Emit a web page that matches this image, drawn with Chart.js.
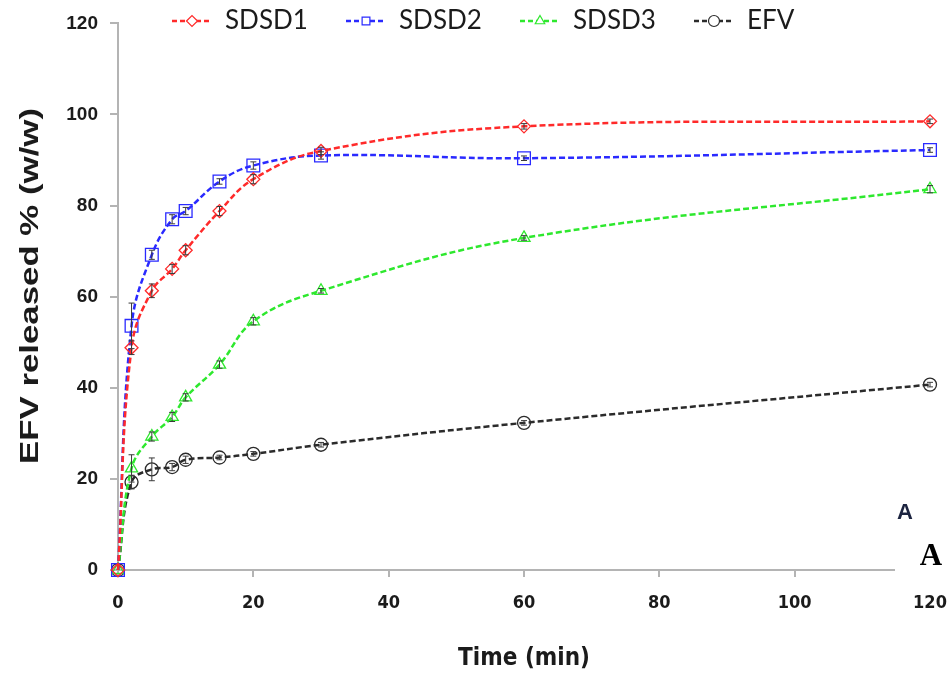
<!DOCTYPE html>
<html>
<head>
<meta charset="utf-8">
<script src="https://cdn.jsdelivr.net/npm/chart.js@4.4.1/dist/chart.umd.min.js"></script>
<style>
  html, body { margin: 0; padding: 0; background: #fff; }
  #plot-container { width: 952px; height: 679px; }
</style>
</head>
<body>
<div id="plot-container"><canvas id="release-chart" width="952" height="679"></canvas></div>
<script>
(function(window) {
  'use strict';

  // sampling times (min)
  const timePoints = [0, 2, 5, 8, 10, 15, 20, 30, 60, 120];

  // cumulative EFV released % (w/w)
  const sdsd1 = [0, 48.8, 61.3, 66.1, 70.2, 78.8, 85.8, 92.0, 97.4, 98.5];
  const sdsd2 = [0, 53.6, 69.2, 77.0, 78.8, 85.3, 88.8, 91.0, 90.4, 92.2];
  const sdsd3 = [0, 22.3, 29.3, 33.6, 37.9, 45.1, 54.6, 61.3, 72.9, 83.6];
  const efv   = [0, 19.3, 22.1, 22.6, 24.2, 24.7, 25.5, 27.5, 32.3, 40.7];

  // standard deviations, same order
  const sdsd1Err = [0, 1.5, 1.5, 1.0, 1.0, 1.0, 1.0, 0.8, 0.6, 0.5];
  const sdsd2Err = [0, 5.0, 1.0, 1.0, 0.8, 0.6, 0.8, 0.8, 0.5, 0.5];
  const sdsd3Err = [0, 3.0, 1.0, 1.0, 0.8, 0.8, 0.8, 0.5, 0.5, 0.8];
  const efvErr   = [0, 1.5, 2.5, 0.8, 0.8, 0.5, 0.5, 0.5, 0.5, 0.5];

  const seriesNames = ['SDSD1', 'SDSD2', 'SDSD3', 'EFV'];
  const xTicks = [0, 20, 40, 60, 80, 100, 120];
  const yTicks = [0, 20, 40, 60, 80, 100, 120];
  const xTitle = 'Time (min)';
  const yTitle = 'EFV released % (w/w)';

  const axisGray = '#b4b4b4';
  const textDark = '#1b1b1b';

  function toPoints(values) {
    return timePoints.map((t, i) => ({ x: t, y: values[i] }));
  }

  function makeSeries(name, values, errors, color, style, radius) {
    return {
      label: name,
      data: toPoints(values),
      errors: errors,
      borderColor: color,
      borderWidth: 2.5,
      borderDash: [6, 3],
      tension: 0.4,
      fill: false,
      clip: false,
      pointStyle: style,
      pointRadius: radius,
      pointBorderWidth: 1.3,
      pointBorderColor: color,
      pointBackgroundColor: 'rgba(255,255,255,0)'
    };
  }

  const datasets = [
    makeSeries(seriesNames[0], sdsd1, sdsd1Err, '#ff2a2a', 'rectRot', 6.5),
    makeSeries(seriesNames[1], sdsd2, sdsd2Err, '#2a2aff', 'rect', 9),
    makeSeries(seriesNames[2], sdsd3, sdsd3Err, '#2ee82e', 'triangle', 7),
    makeSeries(seriesNames[3], efv, efvErr, '#2b2b2b', 'circle', 6.5)
  ];

  // vertical error bars with small caps, drawn over the markers
  const errorBars = {
    id: 'errorBars',
    afterDatasetsDraw(chart) {
      const ctx = chart.ctx;
      const xs = chart.scales.x;
      const ys = chart.scales.y;
      ctx.save();
      ctx.strokeStyle = '#3a3a3a';
      ctx.lineWidth = 1;
      chart.data.datasets.forEach(ds => {
        ds.data.forEach((p, i) => {
          const sd = ds.errors[i];
          if (!sd) return;
          const px = xs.getPixelForValue(p.x);
          const top = ys.getPixelForValue(p.y + sd);
          const bot = ys.getPixelForValue(p.y - sd);
          ctx.beginPath();
          ctx.moveTo(px, top); ctx.lineTo(px, bot);
          ctx.moveTo(px - 3, top); ctx.lineTo(px + 3, top);
          ctx.moveTo(px - 3, bot); ctx.lineTo(px + 3, bot);
          ctx.stroke();
        });
      });
      ctx.restore();
    }
  };

  // legend in one row across the top of the plot
  const topLegend = {
    id: 'topLegend',
    afterDraw(chart) {
      const ctx = chart.ctx;
      const startX = 172;
      const pitch = 174;
      const y = 21;
      ctx.save();
      ctx.font = '26px Lato, "Noto Sans", sans-serif';
      ctx.textBaseline = 'middle';
      chart.data.datasets.forEach((ds, i) => {
        const x0 = startX + i * pitch;
        ctx.strokeStyle = ds.borderColor;
        ctx.lineWidth = 2.5;
        ctx.setLineDash([5, 3]);
        ctx.beginPath();
        ctx.moveTo(x0, y); ctx.lineTo(x0 + 40, y);
        ctx.stroke();
        ctx.setLineDash([]);
        ctx.lineWidth = 1.2;
        ctx.fillStyle = '#fff';
        Chart.helpers.drawPoint(ctx, {
          pointStyle: ds.pointStyle,
          radius: Math.min(ds.pointRadius, 5.5),
          rotation: 0,
          borderWidth: 1.2
        }, x0 + 20, y);
        ctx.fillStyle = textDark;
        ctx.fillText(ds.label, x0 + 53, y);
      });
      ctx.restore();
    }
  };

  // rotated y-axis title, stretched along its length
  const yAxisTitle = {
    id: 'yAxisTitle',
    afterDraw(chart) {
      const ctx = chart.ctx;
      ctx.save();
      ctx.font = 'bold 26px "Liberation Sans", Arial, sans-serif';
      const w = ctx.measureText(yTitle).width;
      const stretch = 356 / w;
      ctx.translate(31, 286);
      ctx.rotate(-Math.PI / 2);
      ctx.scale(stretch, 1);
      ctx.textAlign = 'center';
      ctx.textBaseline = 'middle';
      ctx.fillStyle = textDark;
      ctx.fillText(yTitle, 0, 0);
      ctx.restore();
    }
  };

  // panel letters at the lower right corner
  const panelLetters = {
    id: 'panelLetters',
    afterDraw(chart) {
      const ctx = chart.ctx;
      ctx.save();
      ctx.fillStyle = '#fff';
      ctx.fillRect(895, 534, 57, 46);
      ctx.textAlign = 'center';
      ctx.textBaseline = 'alphabetic';
      ctx.fillStyle = '#1c2440';
      ctx.font = 'bold 22px "Liberation Sans", Arial, sans-serif';
      ctx.fillText('A', 905, 519);
      ctx.fillStyle = '#000';
      ctx.font = 'bold 31px "Liberation Serif", "Times New Roman", serif';
      ctx.fillText('A', 931, 565);
      ctx.restore();
    }
  };

  const ctx = document.getElementById('release-chart').getContext('2d');
  const chart = new Chart(ctx, {
    type: 'line',
    data: { datasets: datasets },
    plugins: [errorBars, topLegend, yAxisTitle, panelLetters],
    options: {
      responsive: false,
      animation: false,
      layout: { padding: { top: 22, right: 22, left: 0, bottom: 0 } },
      plugins: {
        legend: { display: false },
        tooltip: { enabled: false }
      },
      scales: {
        x: {
          type: 'linear',
          min: 0,
          max: 120,
          afterFit(scale) {
            scale.height = 109;
            // let the last label hang into the right margin
            scale.paddingLeft = 0;
            scale.paddingRight = 0;
          },
          afterBuildTicks(scale) { scale.ticks = xTicks.map(v => ({ value: v })); },
          border: { display: true, color: axisGray, width: 2 },
          grid: { display: true, drawOnChartArea: false, drawTicks: true, tickLength: 7, color: axisGray, lineWidth: 2 },
          ticks: {
            padding: 16,
            color: textDark,
            maxRotation: 0,
            font: { family: '"Liberation Sans Narrow", "DejaVu Sans Condensed", "Liberation Sans", sans-serif', weight: 'bold', size: 18 }
          },
          title: {
            display: true,
            text: xTitle,
            color: textDark,
            padding: { top: 0, bottom: 6 },
            font: { family: '"Liberation Sans Narrow", "DejaVu Sans Condensed", "Liberation Sans", sans-serif', weight: 'bold', size: 24 }
          }
        },
        y: {
          type: 'linear',
          min: 0,
          max: 120,
          afterFit(scale) { scale.width = 118; },
          afterBuildTicks(scale) { scale.ticks = yTicks.map(v => ({ value: v })); },
          border: { display: true, color: axisGray, width: 2 },
          grid: { display: true, drawOnChartArea: false, drawTicks: true, tickLength: 8, color: axisGray, lineWidth: 2 },
          ticks: {
            padding: 12,
            color: textDark,
            font: { family: '"Liberation Sans", Arial, sans-serif', weight: 'bold', size: 19 }
          },
          title: { display: false }
        }
      }
    }
  });

  window.releaseChart = chart;
})(window);
</script>
</body>
</html>
